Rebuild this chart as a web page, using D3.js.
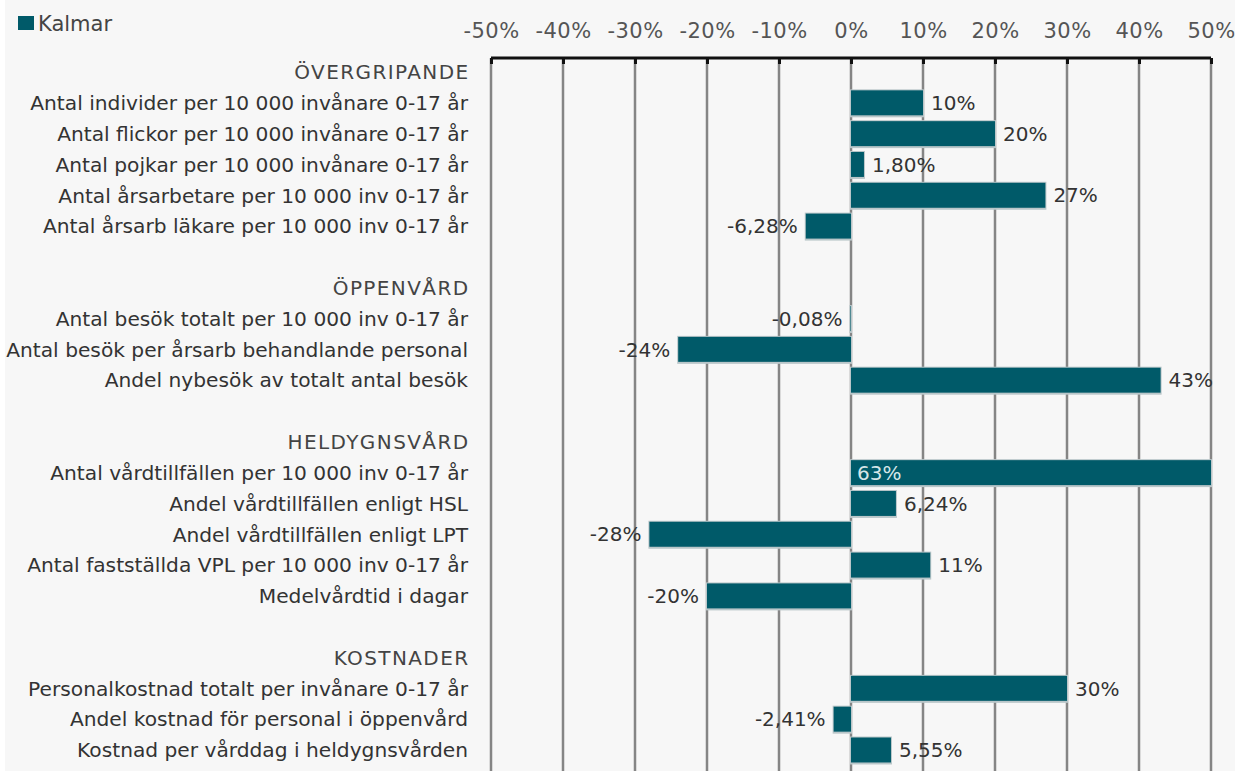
<!DOCTYPE html>
<html>
<head>
<meta charset="utf-8">
<script src="https://cdn.jsdelivr.net/npm/d3@7"></script>
<style>
  body { margin: 0; background: #f7f7f7; }
  svg { display: block; font-family: "DejaVu Sans", sans-serif; }
</style>
</head>
<body>
<svg class="chart" width="1235" height="771"></svg>
<script>
var sections = ["ÖVERGRIPANDE", "ÖPPENVÅRD", "HELDYGNSVÅRD", "KOSTNADER"];

var labels = [
  ["Antal individer per 10 000 invånare 0-17 år",
   "Antal flickor per 10 000 invånare 0-17 år",
   "Antal pojkar per 10 000 invånare 0-17 år",
   "Antal årsarbetare per 10 000 inv 0-17 år",
   "Antal årsarb läkare per 10 000 inv 0-17 år"],
  ["Antal besök totalt per 10 000 inv 0-17 år",
   "Antal besök per årsarb behandlande personal",
   "Andel nybesök av totalt antal besök"],
  ["Antal vårdtillfällen per 10 000 inv 0-17 år",
   "Andel vårdtillfällen enligt HSL",
   "Andel vårdtillfällen enligt LPT",
   "Antal fastställda VPL per 10 000 inv 0-17 år",
   "Medelvårdtid i dagar"],
  ["Personalkostnad totalt per invånare 0-17 år",
   "Andel kostnad för personal i öppenvård",
   "Kostnad per vårddag i heldygnsvården"]
];

var values = [
  [10, 20, 1.8, 27, -6.28],
  [-0.08, -24, 43],
  [63, 6.24, -28, 11, -20],
  [30, -2.41, 5.55]
];

var valueLabels = [
  ["10%", "20%", "1,80%", "27%", "-6,28%"],
  ["-0,08%", "-24%", "43%"],
  ["63%", "6,24%", "-28%", "11%", "-20%"],
  ["30%", "-2,41%", "5,55%"]
];

var tickValues = [-50, -40, -30, -20, -10, 0, 10, 20, 30, 40, 50];
var seriesName = "Kalmar";

// build the row list: header, items, blank spacer between sections
var rows = [];
sections.forEach(function (s, i) {
  if (i > 0) rows.push({ key: "blank" + i, type: "blank" });
  rows.push({ key: "h" + i, type: "header", text: s });
  labels[i].forEach(function (l, j) {
    rows.push({ key: i + "_" + j, type: "item", text: l, value: values[i][j], vlabel: valueLabels[i][j] });
  });
});

var svg = d3.select(".chart");

svg.append("rect").attr("width", 1235).attr("height", 771).attr("fill", "#f7f7f7");
svg.append("rect").attr("width", 5).attr("height", 771).attr("fill", "#ffffff");

var x = d3.scaleLinear().domain([-50, 50]).range([491, 1211]).clamp(true);
var y = d3.scaleBand()
  .domain(rows.map(function (d) { return d.key; }))
  .range([56.6, 765.4])
  .paddingInner(0.19)
  .paddingOuter(0.095);

var axisTop = 58;

// grid lines
svg.append("g")
  .selectAll("line")
  .data(tickValues)
  .join("line")
  .attr("x1", function (d) { return x(d); })
  .attr("x2", function (d) { return x(d); })
  .attr("y1", axisTop)
  .attr("y2", 771)
  .attr("stroke", "#858585")
  .attr("stroke-width", 2.5);

// top axis
var axis = svg.append("g")
  .attr("transform", "translate(0," + axisTop + ")")
  .call(d3.axisTop(x).tickValues(tickValues).tickSize(-6).tickPadding(20)
    .tickFormat(function (d) { return d + "%"; }));
axis.select(".domain").attr("stroke", "#111").attr("stroke-width", 3)
  .attr("d", "M" + x(-50) + ",0H" + x(50));
axis.selectAll(".tick line").attr("stroke", "#111").attr("stroke-width", 3);
axis.selectAll(".tick text")
  .attr("font-size", 21)
  .attr("letter-spacing", 0.5)
  .attr("fill", "#555")
  .attr("font-family", "DejaVu Sans, sans-serif");

var items = rows.filter(function (d) { return d.type === "item"; });

// bar shadows
svg.append("g")
  .selectAll("rect")
  .data(items)
  .join("rect")
  .attr("x", function (d) { return Math.min(x(d.value), x(0)) - 1; })
  .attr("y", function (d) { return y(d.key) - 1; })
  .attr("width", function (d) { return Math.abs(x(d.value) - x(0)) + 2; })
  .attr("height", y.bandwidth() + 3)
  .attr("fill", "#b9c6c9");

// bars
svg.append("g")
  .selectAll("rect")
  .data(items)
  .join("rect")
  .attr("x", function (d) { return Math.min(x(d.value), x(0)); })
  .attr("y", function (d) { return y(d.key); })
  .attr("width", function (d) { return Math.abs(x(d.value) - x(0)); })
  .attr("height", y.bandwidth())
  .attr("fill", "#005a69");

// value labels
svg.append("g")
  .selectAll("text")
  .data(items)
  .join("text")
  .attr("x", function (d) {
    if (d.value > 50) return x(0) + 6;
    return d.value >= 0 ? x(d.value) + 8 : x(d.value) - 8;
  })
  .attr("y", function (d) { return y(d.key) + y.bandwidth() / 2; })
  .attr("dy", "0.36em")
  .attr("text-anchor", function (d) { return d.value >= 0 ? "start" : "end"; })
  .attr("font-size", 20)
  .attr("fill", function (d) { return d.value > 50 ? "#d5e6e8" : "#333"; })
  .text(function (d) { return d.vlabel; });

// row labels and section headers
svg.append("g")
  .selectAll("text")
  .data(rows.filter(function (d) { return d.type !== "blank"; }))
  .join("text")
  .attr("x", function (d) { return d.type === "header" ? 469.5 : 468; })
  .attr("y", function (d) { return y(d.key) + y.bandwidth() / 2; })
  .attr("dy", "0.36em")
  .attr("text-anchor", "end")
  .attr("font-size", function (d) { return d.type === "header" ? 20 : 20.2; })
  .attr("letter-spacing", function (d) { return d.type === "header" ? 1.4 : 0; })
  .attr("fill", function (d) { return d.type === "header" ? "#444" : "#333"; })
  .text(function (d) { return d.text; });

// legend
svg.append("rect").attr("x", 18).attr("y", 16).attr("width", 16).attr("height", 14).attr("fill", "#005a69");
svg.append("text").attr("x", 38).attr("y", 23).attr("dy", "0.36em")
  .attr("font-size", 21).attr("fill", "#444").text(seriesName);
</script>
</body>
</html>
